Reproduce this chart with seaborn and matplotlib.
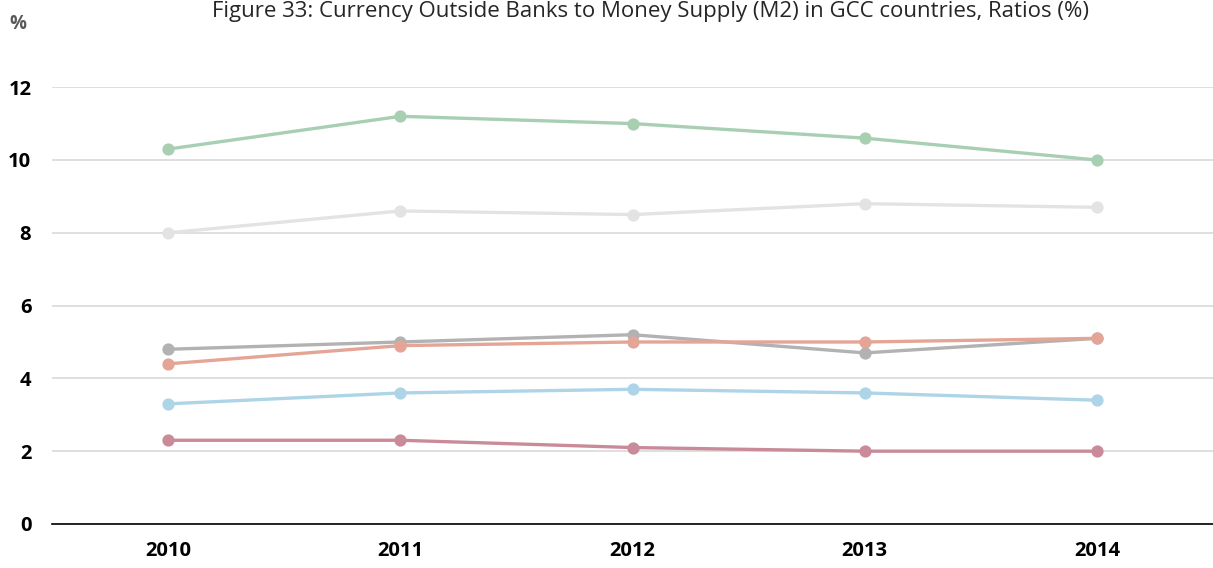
import pandas as pd
import matplotlib.pyplot as plt
import seaborn as sns

sns.set_style("white")
plt.rcParams["font.family"] = ["Open Sans", "DejaVu Sans"]

# DATA
# ====================================
years = ["2010", "2011", "2012", "2013", "2014"]
series_names = ["Series A", "Series B", "Series C", "Series D", "Series E", "Series F"]
green = [10.3, 11.2, 11.0, 10.6, 10.0]
light_grey = [8.0, 8.6, 8.5, 8.8, 8.7]
grey = [4.8, 5.0, 5.2, 4.7, 5.1]
salmon = [4.4, 4.9, 5.0, 5.0, 5.1]
blue = [3.3, 3.6, 3.7, 3.6, 3.4]
mauve = [2.3, 2.3, 2.1, 2.0, 2.0]
colors = ["#A8CFB2", "#E3E3E3", "#B2B2B2", "#E5A596", "#AED4E7", "#C98B99"]

values = [green, light_grey, grey, salmon, blue, mauve]
rows = []
for name, vals in zip(series_names, values):
    for y, v in zip(years, vals):
        rows.append({"year": y, "series": name, "value": v})
df = pd.DataFrame(rows)

# PLOT
# ====================================
fig = plt.figure(figsize=(12.13, 5.68), dpi=100)
ax = fig.add_axes([0.043, 0.0775, 0.957, 0.769])

sns.pointplot(data=df, x="year", y="value", hue="series", order=years,
              hue_order=series_names, palette=colors, errorbar=None,
              markers="o", linestyles="-", markersize=7, linewidth=2.4,
              legend=False, ax=ax)

ax.set_xlim(-0.5, 4.5)
ax.set_ylim(0, 12)
ax.set_yticks([0, 2, 4, 6, 8, 10, 12])
ax.yaxis.grid(True, color="#D9D9D9", linewidth=1.2)
ax.set_axisbelow(True)
for s in ["top", "right", "left"]:
    ax.spines[s].set_visible(False)
ax.spines["bottom"].set_color("black")
ax.spines["bottom"].set_linewidth(1.2)
ax.tick_params(axis="both", length=0, labelsize=14.5, labelcolor="black")
ax.tick_params(axis="y", pad=15)
ax.tick_params(axis="x", pad=12)
for lab in ax.get_xticklabels() + ax.get_yticklabels():
    lab.set_fontweight("bold")
ax.set_xlabel("")
ax.set_ylabel("")

fig.text(0.536, 0.999, "Figure 33: Currency Outside Banks to Money Supply (M2) in GCC countries, Ratios (%)",
         ha="center", va="top", fontsize=16, color="#262626")
fig.text(0.008, 0.958, "%", ha="left", va="center", fontsize=13.5,
         fontweight="bold", color="#595959")

plt.savefig("out.png", dpi=100)
